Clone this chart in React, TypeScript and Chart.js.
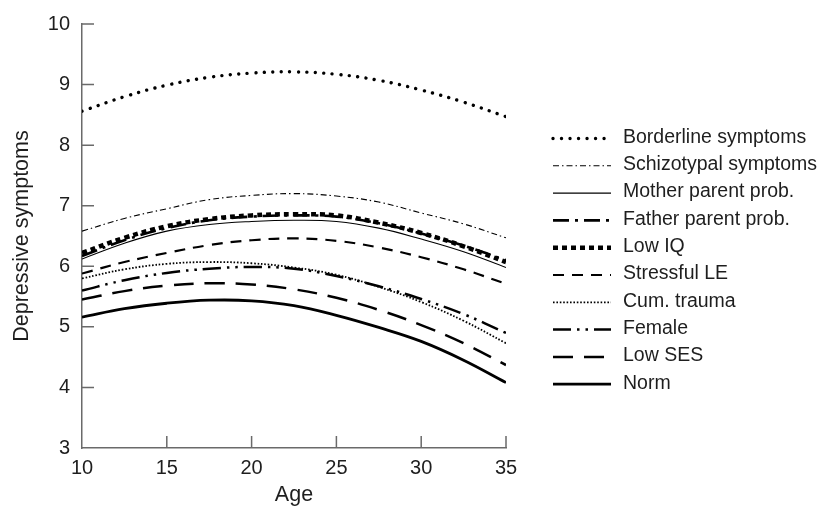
import React, { useEffect, useRef } from "react";
import { Chart, registerables } from "chart.js";

Chart.register(...registerables);

// ---------- data ----------
const ages = [10, 12.5, 15, 17.5, 20, 22.5, 25, 27.5, 30, 32.5, 35];

const seriesNames = [
  "Borderline symptoms",
  "Schizotypal symptoms",
  "Mother parent prob.",
  "Father parent prob.",
  "Low IQ",
  "Stressful LE",
  "Cum. trauma",
  "Female",
  "Low SES",
  "Norm",
];

const borderline = [8.56, 8.8, 8.99, 9.12, 9.19, 9.21, 9.17, 9.07, 8.91, 8.71, 8.47];
const schizotypal = [6.58, 6.79, 6.95, 7.1, 7.17, 7.2, 7.16, 7.06, 6.88, 6.7, 6.47];
const motherProb = [6.12, 6.38, 6.58, 6.69, 6.74, 6.76, 6.74, 6.63, 6.45, 6.24, 5.98];
const fatherProb = [6.17, 6.43, 6.63, 6.76, 6.82, 6.84, 6.82, 6.71, 6.54, 6.34, 6.1];
const lowIQ = [6.22, 6.47, 6.66, 6.78, 6.84, 6.86, 6.84, 6.72, 6.55, 6.33, 6.07];
const stressfulLE = [5.88, 6.07, 6.22, 6.35, 6.43, 6.46, 6.42, 6.31, 6.15, 5.95, 5.71];
const cumTrauma = [5.8, 5.95, 6.04, 6.07, 6.05, 5.98, 5.86, 5.66, 5.41, 5.1, 4.73];
const female = [5.6, 5.77, 5.89, 5.96, 5.99, 5.96, 5.84, 5.67, 5.46, 5.21, 4.9];
const lowSES = [5.45, 5.59, 5.68, 5.72, 5.7, 5.62, 5.48, 5.28, 5.03, 4.73, 4.37];
const norm = [5.16, 5.3, 5.39, 5.44, 5.43, 5.35, 5.19, 4.99, 4.76, 4.45, 4.08];

const seriesValues = [
  borderline,
  schizotypal,
  motherProb,
  fatherProb,
  lowIQ,
  stressfulLE,
  cumTrauma,
  female,
  lowSES,
  norm,
];

const xTickValues = [10, 15, 20, 25, 30, 35];
const yTickValues = [3, 4, 5, 6, 7, 8, 9, 10];

// ---------- styles ----------
const FONT = "'Liberation Sans', Arial, Helvetica, sans-serif";
const TEXT = "#1e1e1e";
const AXIS = "#6a6a6a";

type LineStyle = { width: number; dash: number[]; cap: CanvasLineCap };
const lineStyles: LineStyle[] = [
  { width: 3.4, dash: [0.01, 8.5], cap: "round" }, // borderline
  { width: 1.1, dash: [6, 3, 1.5, 3], cap: "butt" }, // schizotypal
  { width: 1.1, dash: [], cap: "butt" }, // mother
  { width: 2.6, dash: [16, 6, 3, 6], cap: "butt" }, // father
  { width: 4.5, dash: [5, 4], cap: "butt" }, // low IQ
  { width: 2.2, dash: [11, 8], cap: "butt" }, // stressful
  { width: 1.8, dash: [1.6, 1.8], cap: "butt" }, // cum trauma
  { width: 2.5, dash: [18, 6, 2.5, 6, 2.5, 6], cap: "butt" }, // female
  { width: 2.5, dash: [20, 11], cap: "butt" }, // low SES
  { width: 2.8, dash: [], cap: "butt" }, // norm
];

const inwardTicks = {
  id: "inwardTicks",
  afterDatasetsDraw(chart: any) {
    const { ctx, scales, chartArea } = chart;
    const xs = scales.x;
    const ys = scales.y;
    ctx.save();
    ctx.strokeStyle = AXIS;
    ctx.lineWidth = 1.5;
    ctx.beginPath();
    xTickValues.slice(1).forEach((v) => {
      const px = xs.getPixelForValue(v);
      ctx.moveTo(px, chartArea.bottom);
      ctx.lineTo(px, chartArea.bottom - 12);
    });
    yTickValues.slice(1).forEach((v) => {
      const py = ys.getPixelForValue(v);
      ctx.moveTo(chartArea.left, py);
      ctx.lineTo(chartArea.left + 12, py);
    });
    ctx.stroke();
    ctx.restore();
  },
};

const customLegend = {
  id: "customLegend",
  afterDraw(chart: any) {
    const { ctx } = chart;
    const x0 = 553;
    const x1 = 611;
    const tx = 623;
    const top = 137.5;
    const gap = 27.3;
    ctx.save();
    chart.data.datasets.forEach((ds: any, i: number) => {
      const y = top + gap * i;
      const st = lineStyles[i];
      ctx.beginPath();
      ctx.strokeStyle = "#000";
      ctx.lineWidth = st.width;
      ctx.lineCap = st.cap;
      ctx.setLineDash(st.dash);
      ctx.moveTo(x0, y + 1);
      ctx.lineTo(x1, y + 1);
      ctx.stroke();
      ctx.setLineDash([]);
      ctx.fillStyle = TEXT;
      ctx.font = `19.5px ${FONT}`;
      ctx.textAlign = "left";
      ctx.textBaseline = "middle";
      ctx.fillText(ds.label, tx, y);
    });
    ctx.restore();
  },
};

export default function App() {
  const ref = useRef<HTMLCanvasElement | null>(null);

  useEffect(() => {
    document.body.style.margin = "0";
    const canvas = ref.current;
    if (!canvas) return;
    const chart = new Chart(canvas, {
      type: "line",
      data: {
        datasets: seriesNames.map((name, i) => ({
          label: name,
          data: ages.map((a, j) => ({ x: a, y: seriesValues[i][j] })),
          borderColor: "#000",
          borderWidth: lineStyles[i].width,
          borderDash: lineStyles[i].dash,
          borderCapStyle: lineStyles[i].cap,
          pointRadius: 0,
          fill: false,
          tension: 0.4,
        })),
      },
      options: {
        responsive: false,
        animation: false,
        devicePixelRatio: 1,
        layout: { padding: { left: 0, right: 319, top: 20, bottom: 0 } },
        plugins: {
          legend: { display: false },
          tooltip: { enabled: false },
        },
        scales: {
          x: {
            type: "linear",
            min: 10,
            max: 35,
            afterBuildTicks: (s: any) => {
              s.ticks = xTickValues.map((v) => ({ value: v }));
            },
            ticks: {
              font: { size: 20, family: FONT },
              color: TEXT,
              padding: 8,
            },
            grid: { display: true, drawOnChartArea: false, drawTicks: false },
            border: { display: true, color: AXIS, width: 1.5 },
            title: {
              display: true,
              text: "Age",
              font: { size: 21.5, family: FONT },
              color: TEXT,
              padding: { top: 0, bottom: 6 },
            },
            afterFit: (s: any) => {
              s.height = 66;
            },
          },
          y: {
            type: "linear",
            min: 3,
            max: 10,
            afterBuildTicks: (s: any) => {
              s.ticks = yTickValues.map((v) => ({ value: v }));
            },
            ticks: {
              font: { size: 20, family: FONT },
              color: TEXT,
              padding: 12,
            },
            grid: { display: true, drawOnChartArea: false, drawTicks: false },
            border: { display: true, color: AXIS, width: 1.5 },
            title: {
              display: true,
              text: "Depressive symptoms",
              font: { size: 21.5, family: FONT },
              color: TEXT,
              padding: { top: 9, bottom: 0 },
            },
            afterFit: (s: any) => {
              s.width = 82;
            },
          },
        },
      },
      plugins: [inwardTicks, customLegend],
    });
    return () => chart.destroy();
  }, []);

  return (
    <div style={{ width: 825, height: 514, background: "#fff" }}>
      <canvas ref={ref} width={825} height={514} style={{ display: "block" }} />
    </div>
  );
}
